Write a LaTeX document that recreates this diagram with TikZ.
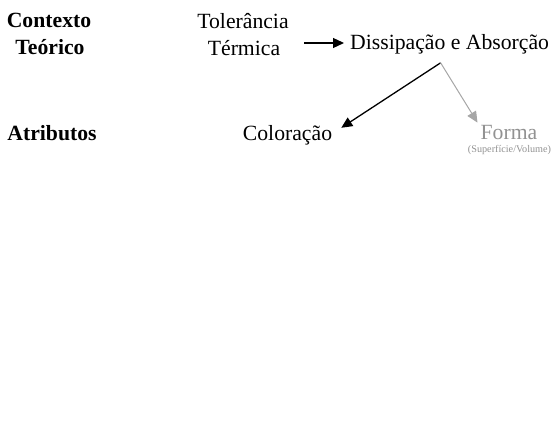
\documentclass[tikz,border=0pt]{standalone}
\usepackage{fontspec}
\setmainfont{Liberation Serif}
\usetikzlibrary{arrows.meta}
\definecolor{lightgray}{HTML}{929292}
\definecolor{arrowgray}{HTML}{A6A6A6}
\begin{document}
\begin{tikzpicture}[x=1pt,y=1pt,
  lbl/.style={inner sep=0pt, anchor=base, font=\fontsize{21.7}{26}\selectfont},
  hdr/.style={lbl, font=\fontsize{21.7}{26}\selectfont\bfseries},
  blackarrow/.style={draw=black, line width=1.3pt, -{Triangle[length=11pt,width=10pt]}},
  grayarrow/.style={draw=arrowgray, line width=1pt, -{Triangle[length=11pt,width=10pt]}}]
\useasboundingbox (0,0) rectangle (558,437);
% headers
\node[hdr] (ctx1) at (49,409) {Contexto};
\node[hdr] (ctx2) at (50,382) {Teórico};
\node[hdr] (atr) at (52,296) {Atributos};
% nodes
\node[lbl] (tol1) at (243,408) {Tolerância};
\node[lbl] (tol2) at (244,381) {Térmica};
\node[lbl, anchor=base west] (dis) at (350,387) {Dissipação e Absorção};
\node[lbl] (col) at (287.5,296) {Coloração};
\node[lbl, text=lightgray] (forma) at (509,297) {Forma};
\node[lbl, text=lightgray, font=\fontsize{10.2}{12}\selectfont] (sub) at (509.5,284.5) {(Superfície/Volume)};
% connectors
\draw[blackarrow] ([xshift=24pt]tol2.east |- 0,394) -- ([xshift=-6pt]dis.west |- 0,394);
\coordinate (fork) at ([xshift=-9pt,yshift=-8pt]dis.south);
\draw[blackarrow] (fork) -- ([xshift=9pt,yshift=8pt]col.east);
\draw[grayarrow] (fork) -- ([xshift=-3pt,yshift=3pt]forma.north west);
\end{tikzpicture}
\end{document}
